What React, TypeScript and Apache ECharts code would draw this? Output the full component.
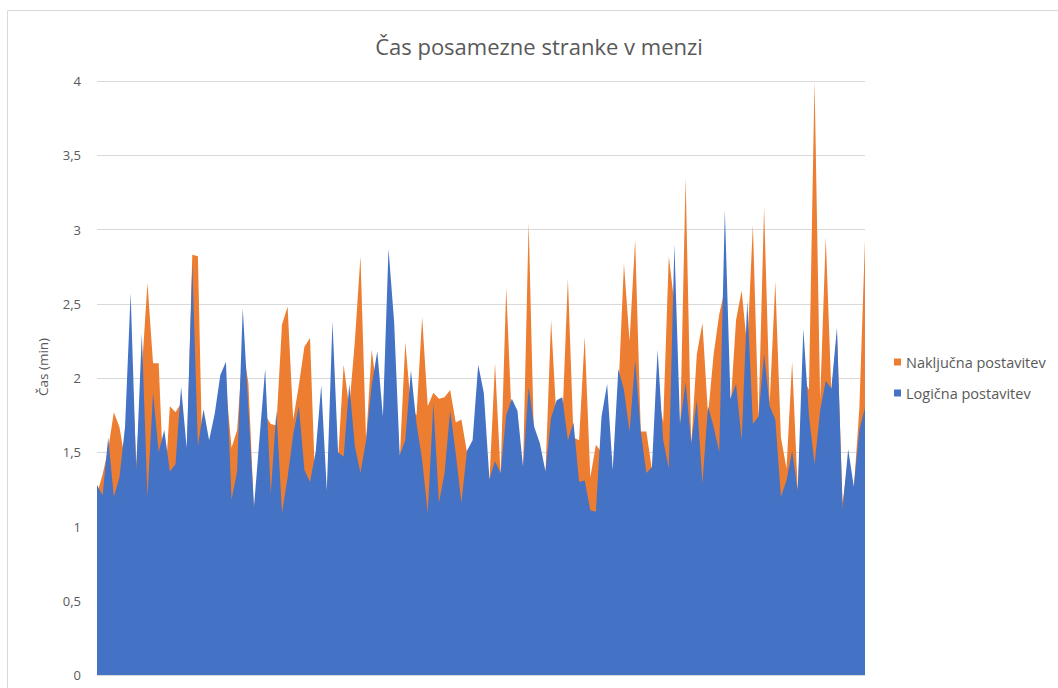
import React, { useEffect, useRef } from "react";
import * as echarts from "echarts";

const TITLE = "Čas posamezne stranke v menzi";
const Y_NAME = "Čas (min)";
const SERIES_RANDOM = "Naključna postavitev";
const SERIES_LOGIC = "Logična postavitev";

// Logična postavitev (blue, front)
const logicValues = [
  1.28, 1.21, 1.6, 1.2, 1.33, 1.67, 2.57, 1.38, 2.3, 1.2,
  1.9, 1.5, 1.65, 1.37, 1.42, 1.94, 1.53, 2.77, 1.54, 1.79,
  1.58, 1.76, 2.02, 2.11, 1.18, 1.37, 2.47, 1.8, 1.13, 1.6,
  2.06, 1.22, 1.78, 1.09, 1.33, 1.62, 1.81, 1.38, 1.3, 1.5,
  1.95, 1.24, 2.38, 1.5, 1.47, 1.96, 1.54, 1.36, 1.58, 1.95,
  2.18, 1.74, 2.87, 2.38, 1.48, 1.58, 2.05, 1.69, 1.45, 1.09,
  1.83, 1.16, 1.36, 1.78, 1.49, 1.16, 1.51, 1.58, 2.09, 1.9,
  1.32, 1.44, 1.36, 1.75, 1.86, 1.78, 1.4, 1.94, 1.67, 1.56,
  1.37, 1.73, 1.85, 1.87, 1.58, 1.7, 1.3, 1.31, 1.11, 1.1,
  1.74, 1.96, 1.38, 2.06, 1.92, 1.64, 2.12, 1.64, 1.36, 1.4,
  2.19, 1.58, 1.39, 2.9, 1.69, 1.97, 1.56, 1.85, 1.29, 1.81,
  1.67, 1.5, 3.13, 1.86, 1.96, 1.58, 2.52, 1.69, 1.74, 2.16,
  1.81, 1.72, 1.2, 1.31, 1.51, 1.24, 2.33, 1.75, 1.42, 1.78,
  1.98, 1.93, 2.34, 1.12, 1.52, 1.27, 1.65, 1.8,
];

// Naključna postavitev (orange, back)
const randomValues = [
  1.22, 1.35, 1.52, 1.77, 1.67, 1.45, 2.3, 1.42, 2.05, 2.64,
  2.1, 2.1, 1.2, 1.81, 1.77, 1.83, 1.45, 2.83, 2.82, 1.1,
  1.45, 1.6, 1.9, 1.95, 1.53, 1.65, 2.2, 1.97, 1.12, 1.4,
  1.75, 1.69, 1.68, 2.36, 2.48, 1.72, 1.95, 2.21, 2.27, 1.2,
  1.7, 1.2, 2.0, 1.45, 2.09, 1.8, 2.25, 2.82, 1.58, 2.19,
  1.9, 1.6, 2.5, 2.1, 1.45, 2.24, 1.8, 1.75, 2.41, 1.81,
  1.9, 1.86, 1.87, 1.92, 1.7, 1.72, 1.5, 1.5, 1.9, 1.7,
  1.3, 2.1, 1.35, 2.61, 1.7, 1.6, 1.38, 3.05, 1.5, 1.5,
  1.36, 2.39, 1.7, 1.7, 2.67, 1.6, 1.58, 2.28, 1.33, 1.55,
  1.5, 1.8, 1.35, 1.9, 2.77, 2.25, 2.93, 1.64, 1.64, 1.38,
  1.9, 1.7, 2.82, 2.5, 1.6, 3.35, 1.55, 2.16, 2.37, 1.75,
  2.16, 2.43, 2.6, 1.8, 2.39, 2.59, 2.2, 3.03, 1.72, 3.15,
  1.83, 2.65, 1.6, 1.39, 2.11, 1.25, 2.0, 1.92, 4.0, 1.85,
  2.95, 1.9, 2.3, 1.16, 1.45, 1.25, 1.8, 2.93,
];

const categories = logicValues.map((_, i) => String(i + 1));

const yTicks = [0, 0.5, 1, 1.5, 2, 2.5, 3, 3.5, 4];

const FONT = "'Open Sans', 'Noto Sans', sans-serif";
const TEXT_COLOR = "#595959";

export default function App() {
  const ref = useRef<HTMLDivElement>(null);

  useEffect(() => {
    if (!ref.current) return;
    const chart = echarts.init(ref.current, undefined, { renderer: "svg" });
    chart.setOption({
      animation: false,
      backgroundColor: "#ffffff",
      textStyle: { fontFamily: FONT },
      title: {
        text: TITLE,
        left: 534,
        top: 30,
        textAlign: "center",
        textStyle: {
          fontFamily: FONT,
          fontSize: 22,
          fontWeight: "normal",
          color: TEXT_COLOR,
        },
      },
      legend: {
        orient: "vertical",
        left: 894,
        top: 354,
        padding: 0,
        icon: "rect",
        itemWidth: 7,
        itemHeight: 7,
        itemGap: 15,
        data: [SERIES_RANDOM, SERIES_LOGIC],
        textStyle: {
          fontFamily: FONT,
          fontSize: 14.5,
          color: TEXT_COLOR,
          lineHeight: 16,
        },
      },
      grid: { left: 97, right: 193, top: 81, bottom: 13, containLabel: false },
      xAxis: {
        type: "category",
        boundaryGap: false,
        data: categories,
        axisLabel: { show: false },
        axisTick: { show: false },
        axisLine: { show: true, lineStyle: { color: "#d9d9d9", width: 1 } },
        splitLine: { show: false },
      },
      yAxis: {
        type: "value",
        min: yTicks[0],
        max: yTicks[yTicks.length - 1],
        interval: 0.5,
        axisLine: { show: false },
        axisTick: { show: false },
        axisLabel: {
          margin: 16,
          fontFamily: FONT,
          fontSize: 13,
          color: TEXT_COLOR,
          formatter: (v: number) => String(v).replace(".", ","),
        },
        splitLine: { lineStyle: { color: "#d9d9d9", width: 1 } },
      },
      series: [
        {
          name: SERIES_RANDOM,
          type: "line",
          data: randomValues,
          symbol: "none",
          lineStyle: { width: 0 },
          areaStyle: { color: "#ED7D31", opacity: 1 },
          itemStyle: { color: "#ED7D31" },
          z: 2,
        },
        {
          name: SERIES_LOGIC,
          type: "line",
          data: logicValues,
          symbol: "none",
          lineStyle: { width: 0 },
          areaStyle: { color: "#4472C4", opacity: 1 },
          itemStyle: { color: "#4472C4" },
          z: 3,
        },
      ],
      graphic: [
        {
          type: "rect",
          silent: true,
          shape: { x: 7.5, y: 10.5, width: 1100, height: 720 },
          style: { fill: "none", stroke: "#d9d9d9", lineWidth: 1 },
          z: -1,
        },
        {
          type: "text",
          x: 43,
          y: 367,
          rotation: Math.PI / 2,
          style: {
            text: Y_NAME,
            fontFamily: FONT,
            fontSize: 13.5,
            fill: TEXT_COLOR,
            align: "center",
            verticalAlign: "middle",
          },
        },
      ],
    });
    return () => chart.dispose();
  }, []);

  return (
    <div
      ref={ref}
      style={{ position: "absolute", left: 0, top: 0, width: 1058, height: 688 }}
    />
  );
}
